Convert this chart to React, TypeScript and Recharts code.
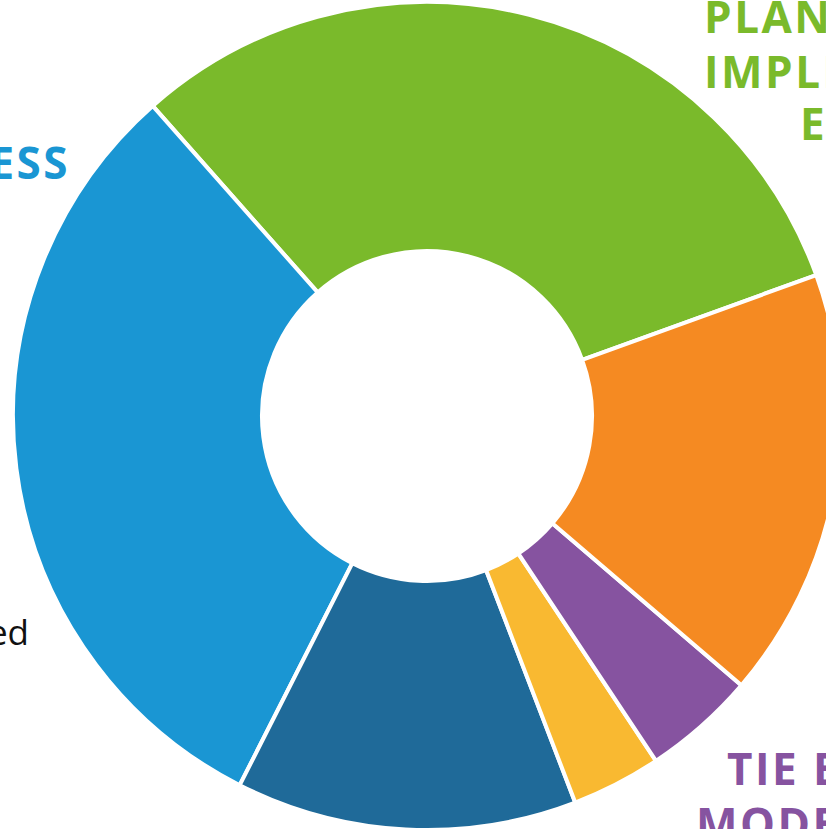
import React from "react";
import { PieChart, Pie, Cell } from "recharts";

// segments, counterclockwise starting at the green/orange boundary
const segmentNames = [
  "Planning & Implementation",
  "Awareness",
  "Capacity",
  "Support",
  "Tie Evidence to Models",
  "Evaluation",
];
const segmentValues = [31, 31, 13.3, 3.5, 4.4, 16.8];
const segmentColors = ["#7aba2b", "#1a96d3", "#1f6a99", "#f9b931", "#8653a0", "#f58a22"];

const greenLabel = ["PLANNING", "IMPLEMENT", "EVALUATION"];
const blueLabel = ["AWARENESS"];
const purpleLabel = ["TIE EVIDENCE", "MODELS"];
const noteLabel = ["Completed"];

const data = segmentNames.map((name, i) => ({ name, value: segmentValues[i] }));

const labelFont = "'Open Sans', Lato, sans-serif";

export default function App() {
  return (
    <div style={{ position: "absolute", left: 0, top: 0, width: 826, height: 829, overflow: "hidden", background: "#fff" }}>
      <PieChart width={826} height={829} margin={{ top: 0, right: 0, bottom: 0, left: 0 }}>
        <Pie
          data={data}
          dataKey="value"
          nameKey="name"
          cx={427}
          cy={416}
          innerRadius={165}
          outerRadius={414}
          startAngle={19.9}
          endAngle={379.9}
          stroke="#fff"
          strokeWidth={4}
          isAnimationActive={false}
        >
          {data.map((d, i) => (
            <Cell key={d.name} fill={segmentColors[i]} />
          ))}
        </Pie>
        <text fontFamily={labelFont} fontWeight={700} fontSize={44} letterSpacing={2.5} fill="#7aba2b">
          <tspan x={704} y={33}>{greenLabel[0]}</tspan>
          <tspan x={704} y={88}>{greenLabel[1]}</tspan>
          <tspan x={800} y={140}>{greenLabel[2]}</tspan>
        </text>
        <text x={70} y={179} textAnchor="end" fontFamily={labelFont} fontWeight={700} fontSize={44} letterSpacing={2.5} fill="#1a96d3">
          {blueLabel[0]}
        </text>
        <text fontFamily={labelFont} fontWeight={700} fontSize={44} letterSpacing={2.5} fill="#8653a0">
          <tspan x={727} y={785}>{purpleLabel[0]}</tspan>
          <tspan x={696} y={840}>{purpleLabel[1]}</tspan>
        </text>
        <text x={29} y={645} textAnchor="end" fontFamily={labelFont} fontSize={35} fill="#111">
          {noteLabel[0]}
        </text>
      </PieChart>
    </div>
  );
}
